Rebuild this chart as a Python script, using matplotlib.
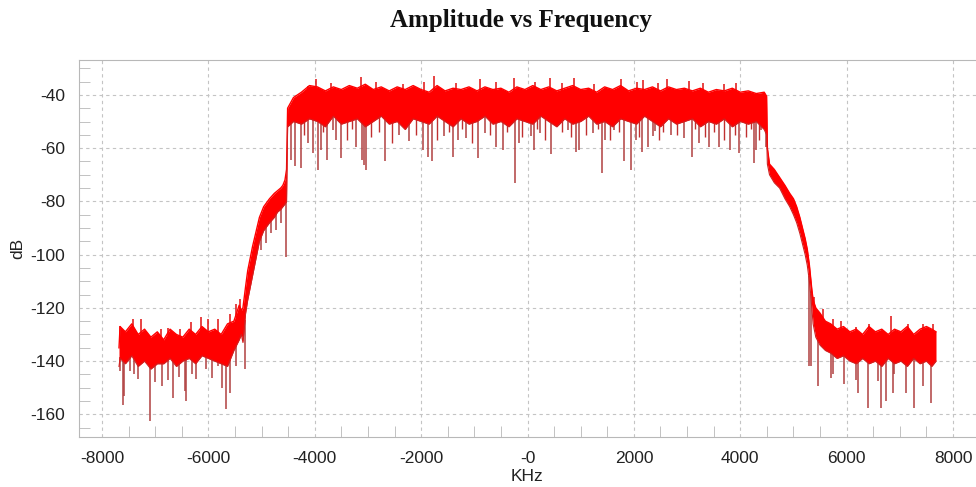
import matplotlib
matplotlib.use("Agg")
import matplotlib.pyplot as plt
import numpy as np
from matplotlib.ticker import MultipleLocator, FixedLocator, FixedFormatter

plt.rcParams['axes.unicode_minus'] = False

# dense body of the trace (KHz, dB), in five pieces
floor_l_freq = [-7680, -7660, -7560, -7440, -7320, -7200, -7080, -6960, -6840, -6720,
                -6600, -6480, -6360, -6240, -6120, -6000, -5880, -5760, -5640, -5520, -5420]
floor_l_top = [-135, -127, -129, -126, -130, -128, -131, -129, -132, -128,
               -130, -131, -128, -130, -127, -129, -128, -130, -126, -125, -119]
floor_l_bot = [-142, -139, -141, -138, -142, -140, -143, -141, -141, -139,
               -142, -140, -139, -141, -138, -139, -140, -141, -142, -136, -132]

slope_l_freq = [-5380, -5350, -5300, -5260, -5230, -5170, -5100, -5040, -4960, -4850,
                -4760, -4700, -4640, -4600, -4560, -4530]
slope_l_top = [-121, -120, -112, -106, -103, -97, -91, -86, -82, -79,
               -77, -76, -75, -74, -72, -68]
slope_l_bot = [-130, -133, -122, -117, -114, -108, -101, -95, -91, -88,
               -86, -84, -83, -82, -81, -80]

pass_freq = [-4510, -4400, -4250, -4100, -3950, -3800, -3650, -3500, -3350, -3200,
             -3050, -2900, -2750, -2600, -2450, -2300, -2150, -2000, -1850, -1700,
             -1550, -1400, -1250, -1100, -950, -800, -650, -500, -350, -200,
             -50, 100, 250, 400, 550, 700, 850, 1000, 1150, 1300,
             1450, 1600, 1750, 1900, 2050, 2200, 2350, 2500, 2650, 2800,
             2950, 3100, 3250, 3400, 3550, 3700, 3850, 4000, 4150, 4300,
             4450, 4495]
pass_top = [-45, -41, -39, -36.5, -37, -38.5, -37, -38, -36.5, -37.5,
            -36, -38, -37, -38.5, -37, -38, -36.5, -38, -39, -36.5,
            -38.5, -37.5, -38, -37, -38.5, -37, -38, -37.5, -39, -37,
            -38, -36.5, -38, -37, -38.5, -37.5, -36.5, -38, -37.5, -39,
            -37, -38, -36.5, -38.5, -37.5, -38, -37, -38.5, -37, -38,
            -37.5, -38.5, -37.5, -39, -38, -38.5, -37.5, -39, -38.5, -39.5,
            -39, -40.5]
pass_bot = [-52, -50, -51, -49, -50, -52, -48, -51, -50, -49,
            -52, -50, -48, -51, -50, -53, -49, -50, -51, -48,
            -50, -52, -49, -51, -50, -48, -51, -50, -52, -49,
            -50, -51, -48, -50, -52, -49, -51, -50, -48, -51,
            -50, -52, -49, -50, -51, -48, -50, -52, -49, -51,
            -50, -49, -52, -50, -51, -49, -52, -50, -51, -50,
            -53, -55]

slope_r_freq = [4510, 4550, 4640, 4740, 4840, 4930, 5000, 5060, 5120, 5170,
                5220, 5260, 5300, 5320, 5345]
slope_r_top = [-60, -66, -68, -71, -74, -77, -79, -82, -86, -90,
               -94, -98, -104, -108, -113]
slope_r_bot = [-66, -70, -73, -75, -79, -82, -85, -88, -92, -96,
               -100, -104, -110, -114, -120]

floor_r_freq = [5370, 5420, 5500, 5600, 5700, 5820, 5940, 6060, 6180, 6300,
                6420, 6540, 6660, 6780, 6900, 7020, 7140, 7260, 7380, 7500,
                7600, 7680]
floor_r_top = [-117, -120, -122, -125, -126, -128, -127, -129, -128, -130,
               -127, -129, -128, -130, -128, -129, -127, -130, -128, -127,
               -128, -129]
floor_r_bot = [-126, -131, -134, -136, -137, -139, -138, -140, -141, -139,
               -141, -140, -142, -139, -141, -140, -142, -139, -141, -140,
               -142, -140]

# downward spikes (dips)
dip_freq = [-7670, -7607, -7594, -7481, -7400, -7325, -7105, -7000, -6867, -6750,
            -6667, -6550, -6447, -6416, -6300, -6228, -6050, -5927, -5821, -5750,
            -5664, -5600, -5476, -5320,
            -5163, -5100, -5006, -4912, -4818, -4724, -4630, -4549,
            -4442, -4380, -4254, -4129, -4036, -3941, -3878, -3772, -3659, -3596,
            -3502, -3233, -3114, -3076, -3045, -2675, -2419, -2231, -1968, -1874,
            -1799, -1573, -1404, -1310, -1153, -934, -808, -588, -464, -244,
            -163, 70, 118, 238, 445, 588, 757, 915, 977, 1227,
            1404, 1466, 1635, 1805, 1955, 2043, 2156, 2261, 2355, 2406,
            2701, 2951, 3089, 3220, 3421, 3609, 3810, 3985, 4254, 4299,
            4393, 4487,
            5301, 5332, 5470, 5709, 5739, 5959, 6179, 6209, 6397, 6585,
            6648, 6743, 6866, 6898, 7118, 7274, 7431, 7588]
dip_value = [-143.7, -156.5, -153, -143.7, -145, -146.8, -162.5, -148, -149.3, -147,
             -153.7, -146, -151.2, -155, -145, -146.7, -143, -146.2, -141.8, -150,
             -158.1, -152, -141.8, -143,
             -102.2, -100.9, -98.4, -95.8, -92, -90.8, -88.3, -100.9,
             -64.4, -66.9, -67.5, -58.1, -61.9, -68.2, -60.6, -64.4, -53.1, -56.9,
             -63.8, -59.4, -64.4, -66.3, -68.2, -64.7, -55, -57.5, -60.6, -63.2,
             -65, -55.6, -63.2, -56.9, -56.2, -63.8, -54.3, -59.4, -60.6, -73,
             -58.1, -55.6, -60.6, -54.3, -62.2, -51.2, -53.1, -61.3, -60.6, -54.3,
             -69.4, -56.9, -53.1, -65, -68.2, -56.9, -61.3, -59.4, -55.6, -53.7,
             -55, -56.2, -63.2, -58.1, -59.4, -59.4, -60.6, -61.9, -65.7, -60.6,
             -53.1, -59.4,
             -141.8, -141.8, -149.3, -146.2, -145, -148.7, -147, -151.9, -157.5, -147.4,
             -157.5, -155, -152, -145, -151.9, -157.5, -149.3, -155.6]

# shorter dips in the pass band
short_dip_freq = [-4200, -3850, -3400, -3300, -2950, -2800, -2550, -2300, -2100, -1700,
                  -1480, -1230, -1050, -700, -380, -100, 170, 330, 640, 820,
                  1100, 1330, 1550, 1720, 2100, 2480, 2550, 2820, 3150, 3330,
                  3500, 3700, 3900, 4100, 4200, 4350]
short_dip_value = [-55, -54, -57, -53, -56, -54, -58, -53, -55, -57,
                   -54, -53, -58, -55, -54, -56, -53, -57, -54, -56,
                   -55, -53, -57, -54, -56, -57, -54, -55, -53, -56,
                   -54, -57, -55, -56, -53, -57]

# upward spikes
peak_freq = [-7669, -7419, -7262, -6886, -6761, -6541, -6321, -6133, -6008, -5821,
             -5602, -5476, -5414,
             -4129, -3972, -3700, -3127, -2850, -2350, -1950, -1767, -1350, -902,
             -600, -263, 150, 414, 650, 883, 1250, 1761, 2050, 2180,
             2450, 2619, 3045, 3300, 3700, 3922, 4455,
             5395, 5551, 5739, 5897, 6179, 6429, 6836, 7148, 7444, 7632]
peak_value = [-126.8, -124.2, -124.2, -128, -127.5, -128, -125.4, -123.5, -124.2, -124.2,
              -122.2, -118.5, -116.6,
              -36.8, -34.2, -35.5, -33.2, -35, -35.8, -35.3, -33, -35.6, -34.2,
              -35.2, -33.6, -35, -33.6, -35.4, -33.6, -35.8, -34, -35.2, -34.5,
              -35.5, -34, -34.9, -35.4, -36, -35.5, -39.2,
              -116, -120.4, -124.2, -124.8, -127.3, -126, -122.9, -126, -126, -126]

x_ticks = [-8000, -6000, -4000, -2000, 0, 2000, 4000, 6000, 8000]
x_tick_labels = ['-8000', '-6000', '-4000', '-2000', '-0', '2000', '4000', '6000', '8000']
y_ticks = [-160, -140, -120, -100, -80, -60, -40]

band_freq = floor_l_freq + slope_l_freq + pass_freq + slope_r_freq + floor_r_freq
band_top = floor_l_top + slope_l_top + pass_top + slope_r_top + floor_r_top
band_bot = floor_l_bot + slope_l_bot + pass_bot + slope_r_bot + floor_r_bot

fig = plt.figure(figsize=(9.76, 4.87), dpi=100)
ax = fig.add_axes([79 / 976, 1 - 437 / 487, 1 - 79 / 976, (437 - 60) / 487])

red = '#ff0000'
dark = '#b04040'

ax.fill_between(band_freq, band_bot, band_top, color=red, lw=0, zorder=3)
ax.plot(band_freq, band_top, color=red, lw=1.0, zorder=3)
ax.plot(band_freq, band_bot, color='#d02020', lw=0.8, zorder=3)

dip_base = np.interp(dip_freq, band_freq, band_bot)
ax.vlines(dip_freq, dip_value, dip_base + 2, color=dark, lw=1.1, zorder=2)
short_base = np.interp(short_dip_freq, band_freq, band_bot)
ax.vlines(short_dip_freq, short_dip_value, short_base + 2, color='#c03030', lw=1.0, zorder=2)
peak_base = np.interp(peak_freq, band_freq, band_top)
ax.vlines(peak_freq, peak_base - 1, peak_value, color='#e01010', lw=1.1, zorder=2)

ax.set_xlim(-8432, 8432)
ax.set_ylim(-168.5, -26.9)

ax.xaxis.set_major_locator(FixedLocator(x_ticks))
ax.xaxis.set_major_formatter(FixedFormatter(x_tick_labels))
ax.xaxis.set_minor_locator(MultipleLocator(500))
ax.yaxis.set_major_locator(FixedLocator(y_ticks))
ax.yaxis.set_minor_locator(MultipleLocator(5))

ax.grid(True, which='major', color='#c4c4c4', lw=0.8, linestyle=(0, (3, 3)), zorder=0)
ax.set_axisbelow(True)

for side in ['left', 'bottom', 'top']:
    ax.spines[side].set_color('#b8b8b8')
ax.spines['right'].set_visible(False)

ax.tick_params(which='major', length=0, pad=10, labelsize=12.5, labelcolor='#222222')
ax.tick_params(which='minor', direction='in', length=8, color='#b8b8b8')
for lab in ax.get_xticklabels() + ax.get_yticklabels():
    lab.set_family('Liberation Sans')

ax.set_xlabel('KHz', fontsize=12.5, family='Liberation Sans', color='#222222', labelpad=2)
ax.set_ylabel('dB', fontsize=12.5, family='Liberation Sans', color='#222222', labelpad=4)

fig.text(521 / 976, 1 - 21 / 487, 'Amplitude vs Frequency', ha='center', va='center',
         fontsize=18, fontweight='bold', family='Liberation Serif', color='#111111')

fig.savefig('out.png', dpi=100)
